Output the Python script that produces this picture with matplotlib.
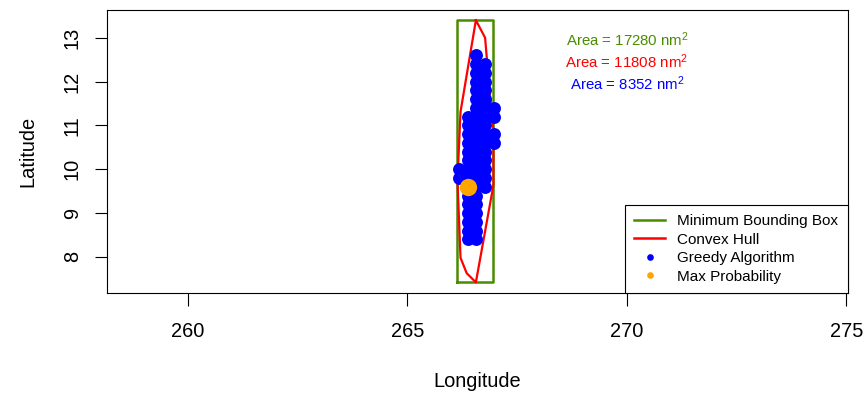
import numpy as np
import matplotlib.pyplot as plt
from matplotlib.lines import Line2D

plt.rcParams['font.family'] = ['Liberation Sans', 'DejaVu Sans']
plt.rcParams['mathtext.fontset'] = 'custom'
plt.rcParams['mathtext.rm'] = 'Liberation Sans'
plt.rcParams['mathtext.it'] = 'Liberation Sans:italic'

# Minimum bounding box (lon range, lat range)
box_lon = [266.14, 266.96]
box_lat = [7.42, 13.40]

# Convex hull vertices
hull_lon = [266.56, 266.77, 266.88, 266.96, 266.96, 266.56, 266.35, 266.21, 266.14, 266.21]
hull_lat = [13.40, 13.00, 11.69, 10.90, 9.64, 7.42, 7.63, 7.98, 9.75, 11.31]

# Cells picked by the greedy algorithm, row by row from north to south
greedy_lon = [
    266.57,
    266.57, 266.77,
    266.57, 266.77,
    266.57, 266.77,
    266.57, 266.77,
    266.57, 266.77,
    266.57, 266.77, 266.97,
    266.37, 266.57, 266.77, 266.97,
    266.37, 266.57, 266.77,
    266.37, 266.57, 266.77, 266.97,
    266.37, 266.57, 266.77, 266.97,
    266.37, 266.57, 266.77,
    266.37, 266.57, 266.77,
    266.17, 266.37, 266.57, 266.77,
    266.17, 266.37, 266.57, 266.77,
    266.37, 266.57, 266.77,
    266.37, 266.57,
    266.37, 266.57,
    266.37, 266.57,
    266.37, 266.57,
    266.37, 266.57,
    266.37, 266.57,
]
greedy_lat = [
    12.6,
    12.4, 12.4,
    12.2, 12.2,
    12.0, 12.0,
    11.8, 11.8,
    11.6, 11.6,
    11.4, 11.4, 11.4,
    11.2, 11.2, 11.2, 11.2,
    11.0, 11.0, 11.0,
    10.8, 10.8, 10.8, 10.8,
    10.6, 10.6, 10.6, 10.6,
    10.4, 10.4, 10.4,
    10.2, 10.2, 10.2,
    10.0, 10.0, 10.0, 10.0,
    9.8, 9.8, 9.8, 9.8,
    9.6, 9.6, 9.6,
    9.4, 9.4,
    9.2, 9.2,
    9.0, 9.0,
    8.8, 8.8,
    8.6, 8.6,
    8.4, 8.4,
]

# Location of maximum probability
max_lon = 266.37
max_lat = 9.6

area_labels = ['Area = 17280 nm$^2$', 'Area = 11808 nm$^2$', 'Area = 8352 nm$^2$']
area_lat = [12.95, 12.45, 11.95]
area_lon = 270.0

green = '#4a8c00'

fig = plt.figure(figsize=(8.65, 3.95), dpi=100)
ax = fig.add_axes([0.12335, 0.25747, 0.85665, 0.71797])

# bounding box
bx = [box_lon[0], box_lon[1], box_lon[1], box_lon[0], box_lon[0]]
by = [box_lat[0], box_lat[0], box_lat[1], box_lat[1], box_lat[0]]
ax.plot(bx, by, color=green, lw=1.8, zorder=2)

# convex hull (closed)
ax.plot(hull_lon + hull_lon[:1], hull_lat + hull_lat[:1], color='red', lw=1.6, zorder=2)

ax.plot(greedy_lon, greedy_lat, 'o', color='blue', ms=9.3, mew=0, zorder=3)
ax.plot([max_lon], [max_lat], 'o', color='orange', ms=12.5, mew=0, zorder=4)

colors = [green, 'red', 'blue']
for lbl, lat, c in zip(area_labels, area_lat, colors):
    ax.text(area_lon, lat, lbl, color=c, fontsize=10.8, ha='center', va='center')

ax.set_xlim(258.15, 275.03)
ax.set_ylim(7.17, 13.64)
ax.set_xticks([260, 265, 270, 275])
ax.set_yticks([8, 9, 10, 11, 12, 13])

for sp in ax.spines.values():
    sp.set_linewidth(0.8)
    sp.set_color('black')

ax.tick_params(axis='both', direction='out', length=9, width=0.8, labelsize=14.4)
ax.tick_params(axis='x', pad=12)
ax.tick_params(axis='y', pad=9, labelrotation=90)
plt.setp(ax.get_yticklabels(), va='center')

fig.text(477.2 / 865, 1 - 387 / 395, 'Longitude', fontsize=14.4, ha='center', va='baseline')
fig.text(33 / 865, 1 - 151.5 / 395, 'Latitude', fontsize=14.4, rotation=90,
         rotation_mode='anchor', ha='center', va='baseline')

handles = [
    Line2D([], [], color=green, lw=1.8),
    Line2D([], [], color='red', lw=1.8),
    Line2D([], [], color='blue', marker='o', ls='none', ms=4.8, mew=0),
    Line2D([], [], color='orange', marker='o', ls='none', ms=4.8, mew=0),
]
labels = ['Minimum Bounding Box', 'Convex Hull', 'Greedy Algorithm', 'Max Probability']
leg = ax.legend(handles, labels, loc='lower right', bbox_to_anchor=(1, 0),
                borderaxespad=0, fontsize=11, fancybox=False, framealpha=1,
                edgecolor='black', borderpad=0.62, labelspacing=0.3,
                handlelength=2.0, handletextpad=0.8)
leg.get_frame().set_linewidth(0.8)

fig.savefig('out.png', dpi=100)
